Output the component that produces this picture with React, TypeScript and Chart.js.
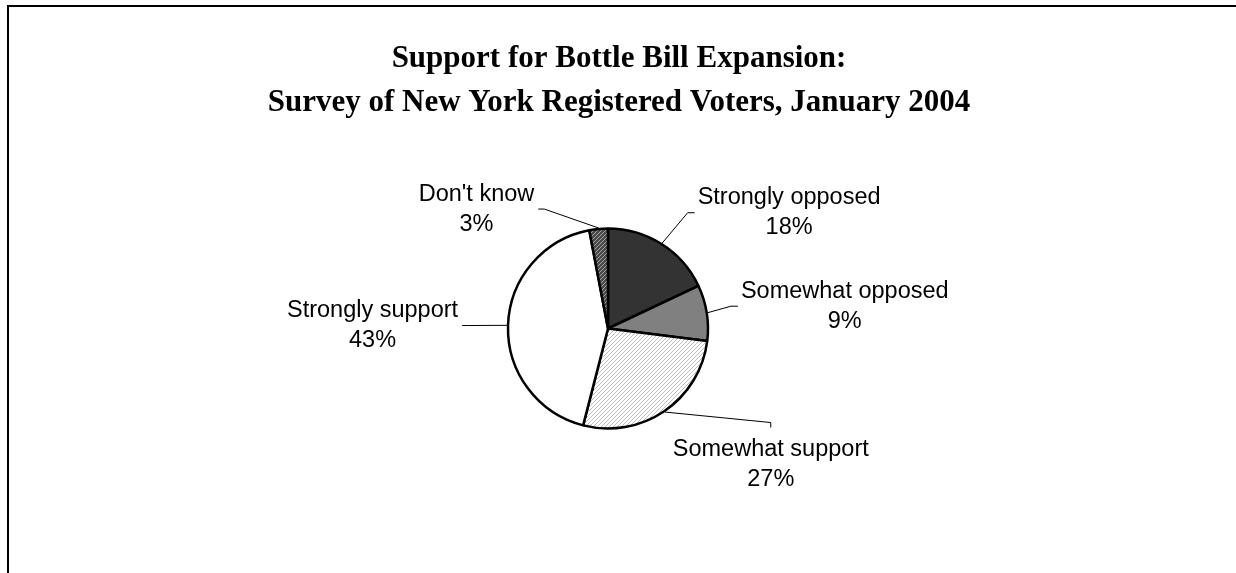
import React, { useEffect, useRef } from "react";
import { Chart, registerables } from "chart.js";

Chart.register(...registerables);

// ---- data ----
const categories = ["Strongly opposed", "Somewhat opposed", "Somewhat support", "Strongly support", "Don't know"];
const percentages = [18, 9, 27, 43, 3];
const titleLines = ["Support for Bottle Bill Expansion:", "Survey of New York Registered Voters, January 2004"];

// ---- label placement (styling): offset of label's first baseline from slice edge midpoint, and leader attach side
const labelDx = [127, 137, 106, -134.5, -122];
const labelDy = [-39, -15, 43.5, -8.3, -27.4];
const labelSide = ["left", "left", "top", "right", "right"];

function hatch(bg: string, fg: string): CanvasPattern | string {
  const c = document.createElement("canvas");
  c.width = 4;
  c.height = 4;
  const x = c.getContext("2d");
  if (!x) return bg;
  x.fillStyle = bg;
  x.fillRect(0, 0, 4, 4);
  x.fillStyle = fg;
  for (let i = 0; i < 4; i++) x.fillRect(3 - i, i, 1, 1);
  return x.createPattern(c, "repeat") || bg;
}

const LABEL_FONT = '23.5px "Liberation Sans", Arial, sans-serif';
const TITLE_FONT = 'bold 31px "Liberation Serif", "Times New Roman", serif';

const framePlugin = {
  id: "frameAndTitle",
  beforeDraw(chart: any) {
    const ctx = chart.ctx;
    ctx.save();
    ctx.fillStyle = "#ffffff";
    ctx.fillRect(0, 0, chart.width, chart.height);
    ctx.fillStyle = "#000000";
    ctx.fillRect(7, 5, 2, chart.height);
    ctx.fillRect(7, 5, chart.width, 2);
    ctx.font = TITLE_FONT;
    ctx.textAlign = "center";
    ctx.textBaseline = "alphabetic";
    titleLines.forEach((t, i) => ctx.fillText(t, 619, 67 + i * 44));
    ctx.restore();
  },
};

const labelPlugin = {
  id: "pieLabels",
  afterDatasetsDraw(chart: any) {
    const ctx = chart.ctx;
    const meta = chart.getDatasetMeta(0);
    ctx.save();
    ctx.font = LABEL_FONT;
    ctx.textAlign = "center";
    ctx.textBaseline = "alphabetic";
    ctx.fillStyle = "#000";
    ctx.strokeStyle = "#000";
    ctx.lineWidth = 1;
    meta.data.forEach((arc: any, i: number) => {
      const p = arc.getProps(["x", "y", "startAngle", "endAngle", "outerRadius"], true);
      const mid = (p.startAngle + p.endAngle) / 2;
      const r = p.outerRadius + 1;
      const ex = p.x + Math.cos(mid) * r;
      const ey = p.y + Math.sin(mid) * r;
      const tx = ex + labelDx[i];
      const by = ey + labelDy[i];
      const l1 = categories[i];
      const l2 = percentages[i] + "%";
      ctx.fillText(l1, tx, by);
      ctx.fillText(l2, tx, by + 30);
      const w = Math.max(ctx.measureText(l1).width, ctx.measureText(l2).width);
      let ax = tx, ay = by, kx = tx, ky = by;
      if (labelSide[i] === "left") {
        ax = tx - w / 2 - 3; ay = by + 8.5; kx = ax - 7; ky = ay;
      } else if (labelSide[i] === "right") {
        ax = tx + w / 2 + 4; ay = by + 8.5; kx = ax + 6; ky = ay;
      } else {
        ax = tx; ay = by - 28; kx = ax; ky = ay - 5;
      }
      ctx.beginPath();
      ctx.moveTo(ax, ay);
      ctx.lineTo(kx, ky);
      ctx.lineTo(ex, ey);
      ctx.stroke();
    });
    ctx.restore();
  },
};

export default function App() {
  const ref = useRef<HTMLCanvasElement | null>(null);
  useEffect(() => {
    if (!ref.current) return;
    const colors = [
      "#333333",
      "#808080",
      hatch("#ffffff", "#bdbdbd"),
      "#ffffff",
      hatch("#4a4a4a", "#a0a0a0"),
    ];
    const chart = new Chart(ref.current, {
      type: "pie",
      data: {
        labels: categories,
        datasets: [
          {
            data: percentages,
            backgroundColor: colors as any,
            borderColor: "#000000",
            borderWidth: 2.5,
          },
        ],
      },
      options: {
        responsive: false,
        animation: false,
        radius: 100,
        layout: { padding: { left: 0, right: 20, top: 100, bottom: 16 } },
        plugins: {
          legend: { display: false },
          tooltip: { enabled: false },
          title: { display: false },
        },
      } as any,
      plugins: [framePlugin, labelPlugin],
    });
    return () => chart.destroy();
  }, []);
  return (
    <div style={{ position: "absolute", left: 0, top: 0, width: 1236, height: 573 }}>
      <canvas ref={ref} width={1236} height={573} />
    </div>
  );
}
